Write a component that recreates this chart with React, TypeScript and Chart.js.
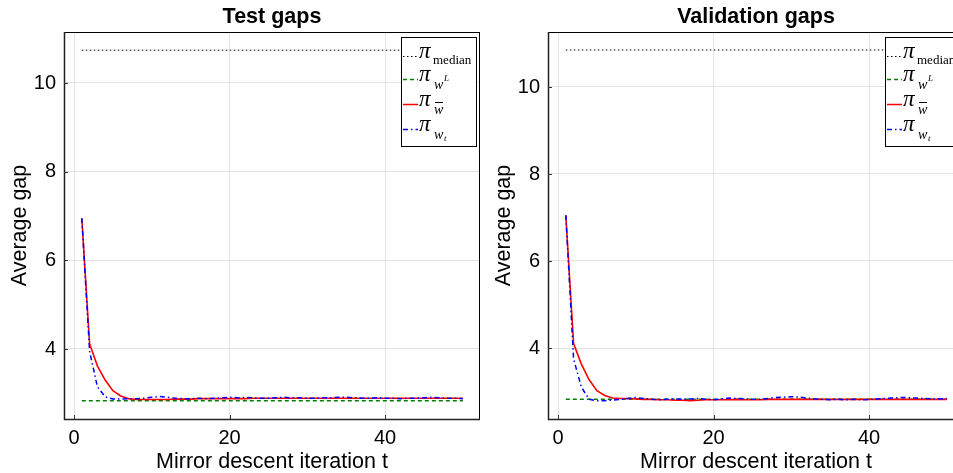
import React, { useEffect, useRef } from "react";
import { Chart, registerables } from "chart.js";
Chart.register(...registerables);

// ---------------- data ----------------
const iterations = [
  1, 2, 3, 4, 5, 6, 7, 8, 9, 10, 11, 12, 13, 14, 15, 16, 17, 18, 19, 20, 21, 22, 23, 24, 25,
  26, 27, 28, 29, 30, 31, 32, 33, 34, 35, 36, 37, 38, 39, 40, 41, 42, 43, 44, 45, 46, 47, 48, 49, 50,
];
const constIters = [1, 50];
const xTicks = [0, 20, 40];
const yTicks = [4, 6, 8, 10];

const testMedian = [10.74, 10.74];
const testWL = [2.83, 2.83];
const testWbar = [
  6.95, 4.12, 3.62, 3.3, 3.06, 2.94, 2.88, 2.86, 2.86, 2.86,
  2.86, 2.86, 2.87, 2.87, 2.87, 2.88, 2.88, 2.88, 2.88, 2.88,
  2.88, 2.88, 2.89, 2.89, 2.89, 2.89, 2.89, 2.89, 2.89, 2.89,
  2.89, 2.89, 2.89, 2.89, 2.89, 2.89, 2.89, 2.89, 2.89, 2.89,
  2.89, 2.89, 2.89, 2.89, 2.89, 2.89, 2.89, 2.89, 2.89, 2.89,
];
const testWt = [
  6.95, 3.95, 3.15, 2.92, 2.87, 2.87, 2.88, 2.88, 2.89, 2.91,
  2.93, 2.91, 2.89, 2.88, 2.88, 2.89, 2.88, 2.89, 2.9, 2.91,
  2.9, 2.91, 2.9, 2.89, 2.89, 2.9, 2.91, 2.9, 2.9, 2.89,
  2.89, 2.9, 2.9, 2.91, 2.91, 2.9, 2.89, 2.89, 2.9, 2.89,
  2.89, 2.88, 2.89, 2.89, 2.9, 2.91, 2.9, 2.89, 2.89, 2.88,
];

const valMedian = [10.85, 10.85];
const valWL = [2.82, 2.82];
const valWbar = [
  7.05, 4.1, 3.63, 3.27, 3.02, 2.91, 2.85, 2.84, 2.84, 2.83,
  2.82, 2.82, 2.81, 2.81, 2.8, 2.8, 2.79, 2.8, 2.81, 2.81,
  2.81, 2.81, 2.82, 2.81, 2.81, 2.81, 2.82, 2.82, 2.82, 2.82,
  2.82, 2.82, 2.82, 2.82, 2.82, 2.82, 2.82, 2.82, 2.82, 2.82,
  2.82, 2.82, 2.82, 2.82, 2.82, 2.82, 2.82, 2.82, 2.82, 2.82,
];
const valWt = [
  7.05, 3.75, 3.1, 2.82, 2.79, 2.79, 2.8, 2.82, 2.84, 2.86,
  2.84, 2.82, 2.81, 2.82, 2.83, 2.82, 2.83, 2.84, 2.82, 2.81,
  2.83, 2.85, 2.84, 2.83, 2.82, 2.82, 2.84, 2.86, 2.87, 2.88,
  2.87, 2.85, 2.83, 2.82, 2.81, 2.82, 2.81, 2.82, 2.81, 2.82,
  2.83, 2.84, 2.85, 2.86, 2.86, 2.85, 2.84, 2.83, 2.83, 2.84,
];

// ---------------- styling ----------------
const SANS = '"Liberation Sans", Arial, Helvetica, sans-serif';
const SERIF = '"Liberation Serif", "DejaVu Serif", serif';
const W = 482;
const H = 473;
const AREA = { left: 64, right: 480, top: 32, bottom: 419 };

const pts = (xs: number[], ys: number[]) => xs.map((x, i) => ({ x, y: ys[i] }));

function drawLegend(ctx: CanvasRenderingContext2D) {
  const L = 401, T = 37, R = 476, B = 146;
  ctx.save();
  ctx.setLineDash([]);
  ctx.fillStyle = "#fff";
  ctx.fillRect(L, T, R - L, B - T);
  ctx.strokeStyle = "#000";
  ctx.lineWidth = 1;
  ctx.strokeRect(L + 0.5, T + 0.5, R - L, B - T);
  const rows = [
    { y: 56, color: "#000", dash: [1.5, 2.5], width: 1, kind: "median" },
    { y: 79, color: "#008000", dash: [4, 3], width: 1.5, kind: "wL" },
    { y: 104, color: "#ff0000", dash: [], width: 1.5, kind: "wbar" },
    { y: 129, color: "#0000ff", dash: [5, 3, 1.5, 3], width: 1.5, kind: "wt" },
  ];
  ctx.textBaseline = "alphabetic";
  ctx.textAlign = "left";
  for (const r of rows) {
    ctx.beginPath();
    ctx.setLineDash(r.dash);
    ctx.strokeStyle = r.color;
    ctx.lineWidth = r.width;
    ctx.moveTo(403, r.y + 0.5);
    ctx.lineTo(418, r.y + 0.5);
    ctx.stroke();
    ctx.setLineDash([]);
    ctx.fillStyle = "#000";
    ctx.font = `italic 23px ${SERIF}`;
    ctx.fillText("π", 419, r.y + 2);
    if (r.kind === "median") {
      ctx.font = `13px ${SERIF}`;
      ctx.fillText("median", 433, r.y + 8);
    } else {
      ctx.font = `italic 14px ${SERIF}`;
      ctx.fillText("w", 434, r.y + 10);
      if (r.kind === "wL") {
        ctx.font = `italic 9px ${SERIF}`;
        ctx.fillText("L", 444, r.y + 2);
      } else if (r.kind === "wt") {
        ctx.font = `italic 9px ${SERIF}`;
        ctx.fillText("t", 444, r.y + 12);
      } else {
        ctx.beginPath();
        ctx.strokeStyle = "#000";
        ctx.lineWidth = 1;
        ctx.moveTo(435, r.y - 1.5);
        ctx.lineTo(443, r.y - 1.5);
        ctx.stroke();
      }
    }
  }
  ctx.restore();
}

function makeFramePlugin(title: string) {
  return {
    id: "frame_" + title.replace(/\s/g, ""),
    afterDraw(chart: any) {
      const ctx: CanvasRenderingContext2D = chart.ctx;
      const a = chart.chartArea;
      ctx.save();
      // frame
      ctx.setLineDash([]);
      ctx.strokeStyle = "#000";
      ctx.lineWidth = 1;
      ctx.strokeRect(a.left + 0.5, a.top + 0.5, a.right - a.left - 1, a.bottom - a.top);
      ctx.strokeStyle = "#222";
      ctx.lineWidth = 1.5;
      ctx.beginPath();
      ctx.moveTo(a.left + 0.5, a.top);
      ctx.lineTo(a.left + 0.5, a.bottom + 0.5);
      ctx.lineTo(a.right, a.bottom + 0.5);
      ctx.stroke();
      // inner ticks
      ctx.lineWidth = 1;
      ctx.strokeStyle = "#333";
      ctx.beginPath();
      for (const t of xTicks) {
        const px = Math.round(chart.scales.x.getPixelForValue(t)) + 0.5;
        ctx.moveTo(px, a.bottom);
        ctx.lineTo(px, a.bottom - 4);
      }
      for (const t of yTicks) {
        const py = Math.round(chart.scales.y.getPixelForValue(t)) + 0.5;
        ctx.moveTo(a.left, py);
        ctx.lineTo(a.left + 4, py);
      }
      ctx.stroke();
      // title
      ctx.fillStyle = "#000";
      ctx.font = `bold 21.5px ${SANS}`;
      ctx.textAlign = "center";
      ctx.textBaseline = "middle";
      ctx.fillText(title, (a.left + a.right) / 2, 17);
      ctx.restore();
      drawLegend(ctx);
    },
  };
}

function GapChart(props: {
  title: string;
  median: number[];
  wL: number[];
  wbar: number[];
  wt: number[];
  yMin: number;
  yMax: number;
  left: number;
}) {
  const ref = useRef<HTMLCanvasElement | null>(null);
  useEffect(() => {
    if (!ref.current) return;
    const chart = new Chart(ref.current, {
      type: "line",
      data: {
        datasets: [
          {
            data: pts(constIters, props.median),
            borderColor: "#000",
            borderWidth: 1,
            borderDash: [1.5, 2.5],
            pointRadius: 0,
            order: 4,
          },
          {
            data: pts(constIters, props.wL),
            borderColor: "#008000",
            borderWidth: 1.5,
            borderDash: [4, 3],
            pointRadius: 0,
            order: 3,
          },
          {
            data: pts(iterations, props.wbar),
            borderColor: "#ff0000",
            borderWidth: 1.6,
            pointRadius: 0,
            order: 2,
          },
          {
            data: pts(iterations, props.wt),
            borderColor: "#0000ff",
            borderWidth: 1.5,
            borderDash: [5, 3, 1.5, 3],
            pointRadius: 0,
            order: 1,
          },
        ],
      },
      options: {
        animation: false,
        responsive: false,
        maintainAspectRatio: false,
        layout: { padding: { top: AREA.top, left: 0, right: W - AREA.right, bottom: 0 } },
        plugins: {
          legend: { display: false },
          tooltip: { enabled: false },
          title: { display: false },
        },
        elements: { line: { tension: 0, fill: false } },
        scales: {
          x: {
            type: "linear",
            min: -1.29,
            max: 52.2,
            afterFit: (s: any) => {
              s.height = H - AREA.bottom;
            },
            grid: { color: "#e4e4e4", lineWidth: 1, drawTicks: false },
            border: { display: false },
            ticks: {
              stepSize: 20,
              includeBounds: false,
              padding: 7,
              maxRotation: 0,
              color: "#000",
              font: { family: SANS, size: 20 },
            },
            title: {
              display: true,
              text: "Mirror descent iteration t",
              color: "#000",
              font: { family: SANS, size: 21.5, lineHeight: 1 },
              padding: { top: 0, bottom: 0 },
            },
          },
          y: {
            type: "linear",
            min: props.yMin,
            max: props.yMax,
            afterFit: (s: any) => {
              s.width = AREA.left;
            },
            grid: { color: "#e4e4e4", lineWidth: 1, drawTicks: false },
            border: { display: false },
            ticks: {
              stepSize: 2,
              includeBounds: false,
              padding: 8,
              color: "#000",
              font: { family: SANS, size: 20 },
            },
            title: {
              display: true,
              text: "Average gap",
              color: "#000",
              font: { family: SANS, size: 21.5, lineHeight: 1 },
              padding: { top: 9, bottom: 0 },
            },
          },
        },
      } as any,
      plugins: [makeFramePlugin(props.title)],
    });
    return () => chart.destroy();
  }, []);
  return (
    <canvas
      ref={ref}
      width={W}
      height={H}
      style={{ position: "absolute", left: props.left, top: 0, width: W, height: H, display: "block" }}
    />
  );
}

export default function App() {
  return (
    <div
      style={{
        position: "fixed",
        left: 0,
        top: 0,
        width: 953,
        height: 473,
        overflow: "hidden",
        background: "#fff",
      }}
    >
      <GapChart
        title="Test gaps"
        median={testMedian}
        wL={testWL}
        wbar={testWbar}
        wt={testWt}
        yMin={2.421}
        yMax={11.15}
        left={0}
      />
      <GapChart
        title="Validation gaps"
        median={valMedian}
        wL={valWL}
        wbar={valWbar}
        wt={valWt}
        yMin={2.368}
        yMax={11.264}
        left={484}
      />
    </div>
  );
}
